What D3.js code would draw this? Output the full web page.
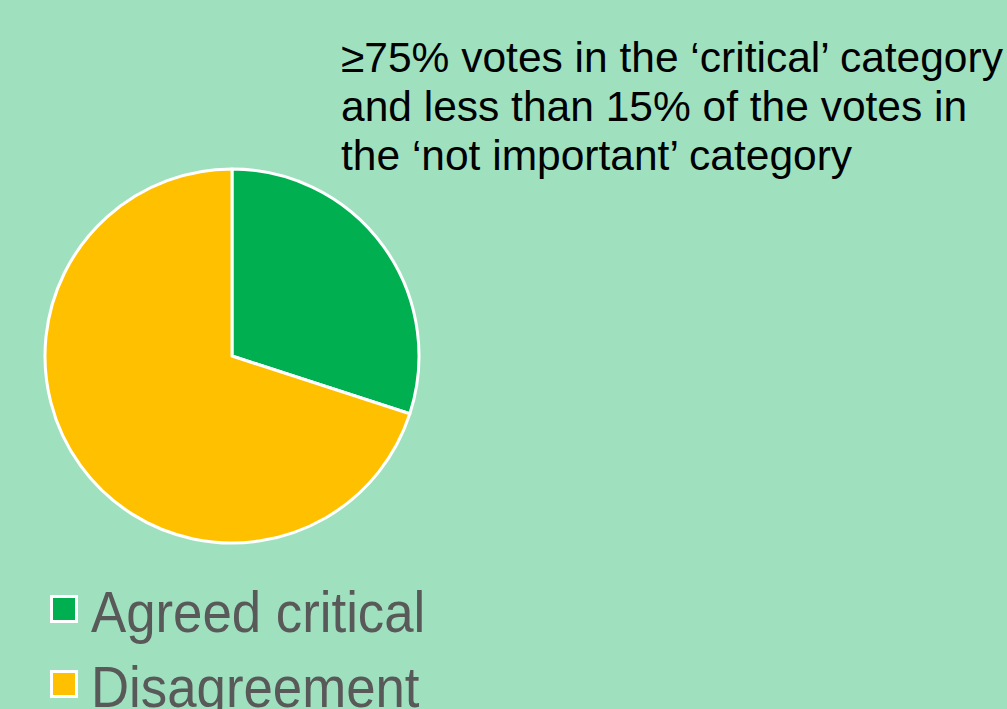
<!DOCTYPE html>
<html>
<head>
<style>
  html, body { margin: 0; padding: 0; background: #9FE1BF; overflow: hidden; }
  svg { display: block; font-family: "Liberation Sans", Arial, sans-serif; }
</style>
</head>
<body>
<svg id="chart" width="1007" height="709"></svg>
<script src="https://d3js.org/d3.v7.min.js"></script>
<script>
// data
const categories = ["Agreed critical", "Disagreement"];
const values = [30, 70];
const colors = ["#00B050", "#FFC000"];
const titleLines = [
  "\u226575% votes in the \u2018critical\u2019 category",
  "and less than 15% of the votes in",
  "the \u2018not important\u2019 category"
];

const svg = d3.select("#chart");
svg.append("rect").attr("width", 1007).attr("height", 709).attr("fill", "#9FE1BF");

// pie
const cx = 232, cy = 356, r = 187;
const pie = d3.pie().sort(null).value(d => d.v);
const arc = d3.arc().innerRadius(0).outerRadius(r);
const slices = pie(categories.map((c, i) => ({ c, v: values[i] })));

svg.append("g")
  .attr("transform", `translate(${cx},${cy})`)
  .selectAll("path")
  .data(slices)
  .join("path")
  .attr("d", arc)
  .attr("fill", (d, i) => colors[i])
  .attr("stroke", "#fff")
  .attr("stroke-width", 3)
  .attr("stroke-linejoin", "round");

// title
svg.append("g")
  .selectAll("text")
  .data(titleLines)
  .join("text")
  .attr("x", 341)
  .attr("y", (d, i) => 72 + i * 49)
  .attr("font-size", 42.5)
  .attr("fill", "#000")
  .text(d => d);

// legend
const legend = svg.append("g")
  .selectAll("g")
  .data(categories)
  .join("g")
  .attr("transform", (d, i) => `translate(50,${595 + i * 75})`);

legend.append("rect")
  .attr("x", 1.5).attr("y", 1.5)
  .attr("width", 25).attr("height", 25)
  .attr("fill", (d, i) => colors[i])
  .attr("stroke", "#fff")
  .attr("stroke-width", 3);

// reference glyphs are a bit narrower than Liberation Sans
legend.append("text")
  .attr("transform", "translate(41,37) scale(0.91,1)")
  .attr("font-size", 58)
  .attr("fill", "#595959")
  .text(d => d);
</script>
</body>
</html>
